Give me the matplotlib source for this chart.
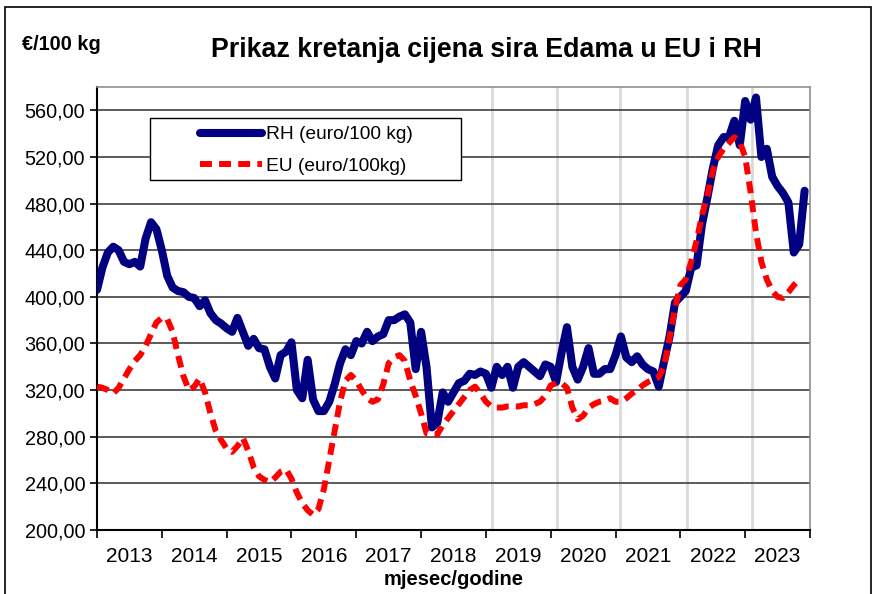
import numpy as np
import matplotlib
matplotlib.use('Agg')
import matplotlib.pyplot as plt
from matplotlib.ticker import FuncFormatter, FixedLocator
from matplotlib.patches import Rectangle

plt.rcParams['font.family'] = ['Liberation Sans', 'DejaVu Sans']

# monthly prices, Jan 2013 onwards
rh = [406, 425, 438, 443, 440, 430, 428, 430, 426, 450, 464, 458,
      440, 418, 408, 405, 404, 400, 399, 392, 397, 386, 380, 377,
      373, 370, 382, 370, 358, 364, 356, 355, 340, 330, 350, 353,
      361, 320, 313, 346, 312, 302, 302, 310, 325, 343, 355, 350,
      362, 360, 370, 362, 366, 368, 380, 380, 383, 385, 378, 338,
      370, 340, 288, 292, 318, 310, 318, 326, 328, 334, 333, 336,
      334, 322, 340, 333, 340, 322, 340, 344, 340, 336, 332, 342,
      340, 327, 352, 374, 340, 329, 340, 356, 334, 334, 338, 338,
      350, 366, 348, 344, 349, 342, 338, 336, 323, 345, 366, 395,
      400, 405, 425, 427, 462, 485, 510, 530, 537, 537, 551, 530,
      568, 552, 571, 520, 527, 503, 495, 489, 481, 438, 445, 491]

eu = [323, 322, 320, 317, 322, 330, 338, 345, 350, 358, 368, 378,
      382, 381, 370, 350, 332, 320, 323, 330, 318, 300, 285, 277,
      270, 267, 272, 279, 268, 254, 246, 243, 241, 245, 250, 252,
      244, 232, 223, 217, 213, 218, 235, 260, 285, 310, 328, 333,
      328, 320, 313, 310, 312, 325, 343, 348, 350, 345, 328, 315,
      300, 283, 282, 282, 290, 296, 302, 308, 314, 320, 323, 317,
      310, 306, 305, 305, 306, 306, 306, 307, 307, 308, 310, 315,
      324, 326, 326, 322, 305, 295, 298, 305, 308, 310, 311, 313,
      310, 310, 313, 317, 320, 324, 327, 329, 331, 340, 365, 390,
      410, 415, 430, 448, 470, 487, 508, 520, 527, 532, 537, 533,
      520, 490, 455, 430, 415, 405, 400, 399, 404, 410, 415]

years = list(range(2013, 2024))
yticks = list(range(200, 561, 40))
highlight = [2019.1, 2020.1, 2021.07, 2022.1, 2023.1]

x_rh = 2013 + np.arange(len(rh)) / 12
x_eu = 2013 + np.arange(len(eu)) / 12

W, H = 872, 594
ax_l, ax_r, ax_t, ax_b = 97, 810, 87, 530
fig = plt.figure(figsize=(W / 100, H / 100), dpi=100)
ax = fig.add_axes([ax_l / W, 1 - ax_b / H, (ax_r - ax_l) / W, (ax_b - ax_t) / H])


def axpos(px, py):
    return (px - ax_l) / (ax_r - ax_l), (ax_b - py) / (ax_b - ax_t)


for h in highlight:
    ax.axvline(h, color='#d9d9d9', lw=2, zorder=1)
for v in yticks:
    ax.axhline(v, color='#404040', lw=1.2, zorder=1)

ax.plot(x_rh, rh, color='#000080', lw=5.8, solid_capstyle='round',
        solid_joinstyle='round', label='RH (euro/100 kg)', zorder=3)
eu_line, = ax.plot(x_eu, eu, color='#ff0000', lw=4.3, label='EU (euro/100kg)', zorder=4)
eu_line.set_dashes((2.0, 1.2))

ax.set_xlim(2013, 2024)
ax.set_ylim(200, 580)
ax.yaxis.set_major_locator(FixedLocator(yticks))
ax.yaxis.set_major_formatter(FuncFormatter(lambda v, p: f"{v:.2f}".replace('.', ',')))
ax.tick_params(axis='y', labelsize=14.3, length=5, width=1.2, colors='black')

ax.xaxis.set_major_locator(FixedLocator(years + [2024]))
ax.xaxis.set_minor_locator(FixedLocator([y + 0.5 for y in years]))
ax.set_xticklabels([])
ax.set_xticklabels([str(y) for y in years], minor=True)
ax.tick_params(axis='x', which='major', length=6, width=1.2, direction='out')
ax.tick_params(axis='x', which='minor', length=0, labelsize=15, pad=12)

for s in ['top', 'right']:
    ax.spines[s].set_color('#909090')
    ax.spines[s].set_linewidth(1.2)
for s in ['left', 'bottom']:
    ax.spines[s].set_color('black')
    ax.spines[s].set_linewidth(1.5)

ax.set_xlabel('mjesec/godine', fontsize=14.5, fontweight='bold', labelpad=3)

# legend box drawn separately to get the wide left margin
x0, y0 = axpos(150, 180)
x1, y1 = axpos(461, 118)
ax.add_patch(Rectangle((x0, y0), x1 - x0, y1 - y0, transform=ax.transAxes,
                       fill=True, facecolor='white', edgecolor='black',
                       lw=1.0, zorder=5))
leg = ax.legend(loc='upper left', bbox_to_anchor=axpos(200, 126),
                fontsize=13.8, frameon=False, handlelength=3.25,
                borderpad=0, labelspacing=0.75, borderaxespad=0,
                handletextpad=0.2)
leg.set_zorder(6)

fig.text(486 / W, 1 - 50 / H, 'Prikaz kretanja cijena sira Edama u EU i RH',
         ha='center', va='center', fontsize=19.3, fontweight='bold')
fig.text(22 / W, 1 - 45 / H, '€/100 kg', ha='left', va='center',
         fontsize=14.3, fontweight='bold')

fig.patches.append(Rectangle((5 / W, -0.05), 866 / W, 1 - 7 / H + 0.05,
                             transform=fig.transFigure, fill=False,
                             edgecolor='black', lw=1.2))

fig.savefig('out.png', dpi=100)
